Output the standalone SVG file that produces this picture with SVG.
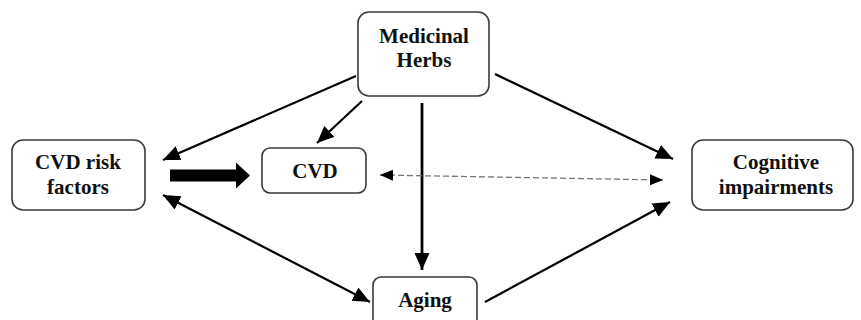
<svg xmlns="http://www.w3.org/2000/svg" width="861" height="320" viewBox="0 0 861 320">
<style>
.box{fill:#fff;stroke:#3a3a3a;stroke-width:1.6}
.lbl{font-family:"Liberation Serif","Times New Roman",serif;font-weight:bold;font-size:21px;fill:#111;text-anchor:middle}
.ln{stroke:#000;stroke-width:2.2;fill:none;marker-end:url(#ah)}
.dash{stroke:#777;stroke-width:1.3;fill:none;stroke-dasharray:6 3;marker-start:url(#ahs);marker-end:url(#ahs)}
</style>
<defs>
<marker id="ah" markerUnits="userSpaceOnUse" markerWidth="18" markerHeight="16" refX="17" refY="7.5" orient="auto-start-reverse" viewBox="0 0 18 16"><path d="M0,0 L17,7.5 L0,15 z" fill="#000"/></marker>
<marker id="ahs" markerUnits="userSpaceOnUse" markerWidth="14" markerHeight="12" refX="13" refY="6" orient="auto-start-reverse" viewBox="0 0 14 12"><path d="M0,0.5 L13,6 L0,11.5 z" fill="#000"/></marker>
</defs>
<g id="connectors">
<path class="ln" d="M356,76 L163,160"/>
<path class="ln" d="M362,101 L317,143"/>
<path class="ln" d="M422,103 L422,270" style="stroke-width:2.8"/>
<path class="ln" d="M495,74 L673,159"/>
<path class="ln" d="M163,195 L370,302" style="marker-start:url(#ah)"/>
<path class="ln" d="M485,302 L670,202"/>
<path class="dash" d="M380,175 L663,180"/>
<path d="M170,169.5 L236,169.5 L236,162.5 L250,175.5 L236,188.5 L236,181.5 L170,181.5 z" fill="#000"/>
</g>
<g id="medicinal-herbs">
<rect class="box" x="358" y="12" width="131" height="84" rx="11"/>
<text class="lbl" x="424" y="43">Medicinal</text>
<text class="lbl" x="424" y="67">Herbs</text>
</g>
<g id="cvd-risk-factors">
<rect class="box" x="12" y="140" width="133" height="70" rx="11"/>
<text class="lbl" x="78" y="169">CVD risk</text>
<text class="lbl" x="78" y="194">factors</text>
</g>
<g id="cvd">
<rect class="box" x="262" y="148" width="104" height="45" rx="8"/>
<text class="lbl" x="315" y="178">CVD</text>
</g>
<g id="cognitive-impairments">
<rect class="box" x="692" y="140" width="161" height="70" rx="11"/>
<text class="lbl" x="776" y="169">Cognitive</text>
<text class="lbl" x="776" y="194">impairments</text>
</g>
<g id="aging">
<rect class="box" x="373" y="277" width="104" height="55" rx="8"/>
<text class="lbl" x="425" y="307">Aging</text>
</g>
</svg>
